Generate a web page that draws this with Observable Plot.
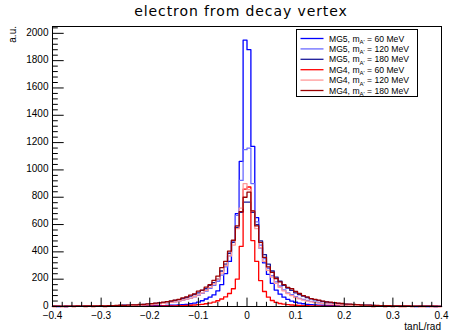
<!DOCTYPE html>
<html><head><meta charset="utf-8">
<script src="https://cdn.jsdelivr.net/npm/d3@7"></script>
<script src="https://cdn.jsdelivr.net/npm/@observablehq/plot@0.6"></script>
<style>body{margin:0;background:#fff;} svg{display:block;}</style>
</head><body><div id="chart"></div>
<script>
// histogram binning: 100 bins from -0.4 to 0.4
const binLow = -0.4, binHigh = 0.4, nBins = 100;

const seriesNames = ["MG5, 60", "MG5, 120", "MG5, 180", "MG4, 60", "MG4, 120", "MG4, 180"];
const seriesLabels = [["MG5, m", "A'", " = 60 MeV"], ["MG5, m", "A'", " = 120 MeV"], ["MG5, m", "A'", " = 180 MeV"],
                      ["MG4, m", "A'", " = 60 MeV"], ["MG4, m", "A'", " = 120 MeV"], ["MG4, m", "A'", " = 180 MeV"]];
const seriesColors = ["#0000ff", "#6b6bff", "#1a1a99", "#ff0000", "#ff9a9a", "#990000"];

const xTicks = [-0.4, -0.3, -0.2, -0.1, 0, 0.1, 0.2, 0.3, 0.4];
const yTicks = [0, 200, 400, 600, 800, 1000, 1200, 1400, 1600, 1800, 2000];

// bin contents, left half (bins -0.4..0) and right half (0..0.4)
const mg5_60 = [
  1,0,1,0,1,1,1,1,2,1, 1,2,1,2,2,2,3,2,3,3, 4,3,4,4,5,5,6,6,7,8, 9,10,12,14,16,20,25,32,42,55, 68,85,115,160,240,330,483,680,1062,1950,
  1880,1172,650,430,320,235,170,120,90,68, 52,40,31,25,20,16,14,12,10,9, 8,7,6,6,5,4,4,4,3,3, 3,2,3,2,2,2,1,2,1,1, 1,1,1,0,1,1,0,1,0,1];
const mg5_120 = [
  1,2,1,2,2,3,2,3,3,4, 3,4,5,4,5,6,6,7,8,8, 9,10,11,13,14,16,18,21,23,26, 30,34,39,45,52,60,70,82,96,112, 132,155,185,230,290,370,480,667,923,1148,
  1160,900,620,450,350,280,225,180,150,122, 100,86,72,60,52,44,38,32,28,24, 21,19,16,14,12,11,10,9,8,7, 6,6,5,5,4,4,4,3,3,3, 2,3,2,2,2,1,2,1,1,1];
const mg5_180 = [
  2,1,2,3,2,3,3,4,3,4, 5,4,6,5,6,7,7,8,9,9, 11,12,13,15,17,20,22,26,29,33, 38,44,50,58,66,76,88,100,118,130, 155,175,200,260,310,390,470,580,690,764,
  764,690,600,480,380,310,260,215,185,155, 135,118,100,88,76,65,56,49,43,37, 33,29,25,22,20,17,15,13,12,10, 9,9,8,7,6,6,5,5,4,4, 4,3,3,3,2,2,2,2,1,1];
const mg4_60 = [
  0,1,0,0,1,0,1,1,0,1, 0,1,1,0,1,1,2,1,1,1, 2,2,2,2,2,3,3,3,4,4, 5,5,6,7,8,9,11,13,16,20, 25,32,42,55,70,95,130,200,440,860,
  875,483,330,190,110,68,44,30,22,17, 13,11,9,8,7,6,5,4,4,3, 3,3,2,2,2,2,1,2,1,1, 1,1,0,1,1,0,1,0,1,0, 0,1,0,1,0,0,1,0,0,0];
const mg4_120 = [
  1,1,2,1,2,2,3,2,3,3, 4,3,4,5,4,5,6,6,7,8, 9,10,11,12,14,16,18,20,23,26, 30,34,40,46,54,62,72,85,100,118, 140,165,200,245,300,370,450,570,720,899,
  855,700,570,430,330,265,215,170,140,115, 95,80,66,56,47,40,34,29,25,22, 19,17,15,13,11,10,9,8,7,6, 6,5,5,4,4,3,3,3,3,2, 2,2,2,2,1,1,1,1,1,1];
const mg4_180 = [
  2,2,1,3,3,2,4,3,4,5, 4,5,6,5,7,6,8,9,8,10, 12,12,15,16,19,21,25,27,32,35, 41,47,52,63,70,84,92,112,120,142, 160,192,222,285,330,405,485,590,695,800,
  837,700,590,470,360,290,250,205,180,160, 140,130,110,95,80,70,58,52,46,40, 34,32,28,24,22,18,17,15,13,11, 10,10,8,8,7,6,6,5,5,4, 4,4,3,3,3,2,3,2,2,1];

const seriesValues = [mg5_60, mg5_120, mg5_180, mg4_60, mg4_120, mg4_180];

const W = 449, H = 333, mL = 52, mR = 8, mT = 26, mB = 27;
const frameW = W - mL - mR, frameH = H - mT - mB;
const binW = (binHigh - binLow) / nBins;

const rows = [];
seriesValues.forEach((vals, s) => {
  vals.forEach((v, k) => rows.push({series: seriesNames[s], x: binLow + k * binW, y: v}));
  rows.push({series: seriesNames[s], x: binHigh, y: vals[vals.length - 1]});
});

const yMinor = d3.range(0, 2050, 40).filter(v => v % 200 !== 0);
const xMinor = d3.range(0, 41).map(i => -0.4 + i * 0.02).filter((v, i) => i % 5 !== 0);

const fmtX = d => d === 0 ? "0" : (d < 0 ? "\u2212" : "") + Math.abs(d).toFixed(1);

const chart = Plot.plot({
  width: W, height: H,
  marginLeft: mL, marginRight: mR, marginTop: mT, marginBottom: mB,
  style: {fontFamily: "'Liberation Sans', Arial, sans-serif", fontSize: "10px", background: "#fff", color: "#000"},
  x: {domain: [binLow, binHigh], label: null},
  y: {domain: [0, 2050], label: null},
  color: {domain: seriesNames, range: seriesColors},
  marks: [
    Plot.line(rows, {x: "x", y: "y", z: "series", stroke: "series", curve: "step-after", strokeWidth: 1.3}),
    Plot.tickY(yTicks, {y: d => d, stroke: "#000", insetRight: frameW - 11.7}),
    Plot.tickY(yMinor, {y: d => d, stroke: "#000", insetRight: frameW - 5.8}),
    Plot.tickX(xTicks, {x: d => d, stroke: "#000", insetTop: frameH - 8.4}),
    Plot.tickX(xMinor, {x: d => d, stroke: "#000", insetTop: frameH - 4.2}),
    Plot.axisY(yTicks, {tickSize: 0, tickPadding: 4, tickFormat: d => String(d), label: null, fill: "#000", dy: -1}),
    Plot.axisX(xTicks, {tickSize: 0, tickPadding: 5, tickFormat: fmtX, label: null, fill: "#000"}),
    Plot.frame({stroke: "#000"})
  ]
});

const svg = d3.select(chart);
svg.append("text").attr("x", 241).attr("y", 15.5).attr("text-anchor", "middle")
  .style("font-family", "'DejaVu Sans', sans-serif").style("font-size", "14px").style("letter-spacing", "0.9px").attr("fill", "#000")
  .text("electron from decay vertex");
svg.append("text").attr("transform", "translate(15.5,26) rotate(-90)").attr("text-anchor", "end")
  .style("font-size", "10px").attr("fill", "#000").text("a.u.");
svg.append("text").attr("x", 441).attr("y", 330).attr("text-anchor", "end")
  .style("font-size", "10px").attr("fill", "#000").text("tanL/rad");

const lg = svg.append("g").attr("text-anchor", "start");
lg.append("rect").attr("x", 296.5).attr("y", 29.5).attr("width", 121).attr("height", 67)
  .attr("fill", "#fff").attr("stroke", "#000");
seriesLabels.forEach((lab, i) => {
  const cy = 38.5 + i * 10.4;
  lg.append("line").attr("x1", 300.5).attr("x2", 323.5).attr("y1", cy).attr("y2", cy)
    .attr("stroke", seriesColors[i]).attr("stroke-width", 1.3);
  const t = lg.append("text").attr("x", 329).attr("y", cy + 3).attr("text-anchor", "start")
    .style("font-size", "8.6px").attr("fill", "#000");
  t.append("tspan").text(lab[0]);
  t.append("tspan").attr("dy", 2.5).style("font-size", "6px").text(lab[1]);
  t.append("tspan").attr("dy", -2.5).text(lab[2]);
});

document.getElementById("chart").appendChild(chart);
</script>
</body></html>
